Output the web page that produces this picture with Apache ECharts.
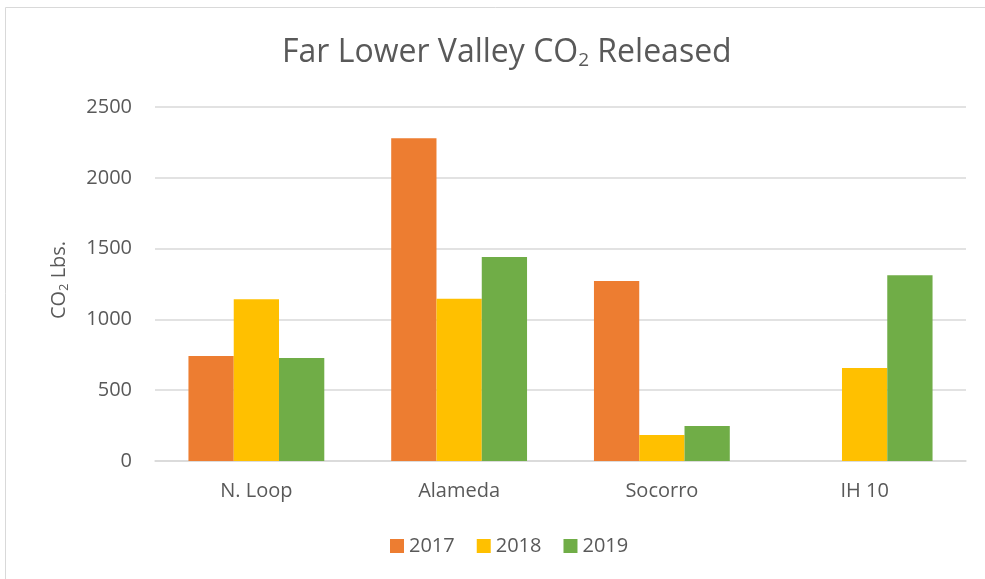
<!DOCTYPE html>
<html>
<head>
<meta charset="utf-8">
<script src="https://cdn.jsdelivr.net/npm/echarts@6/dist/echarts.min.js"></script>
<style>
  html, body { margin: 0; padding: 0; background: #fff; }
  #chart { width: 985px; height: 579px; }
</style>
</head>
<body>
<div id="chart"></div>
<script>
const categories = ['N. Loop', 'Alameda', 'Socorro', 'IH 10'];
const years = ['2017', '2018', '2019'];
const values2017 = [741, 2279, 1272, 0];
const values2018 = [1143, 1146, 184, 657];
const values2019 = [727, 1441, 247, 1312];
const yTicks = [0, 500, 1000, 1500, 2000, 2500];

const font = 'Open Sans';
const textColor = '#595959';

const chart = echarts.init(document.getElementById('chart'));

const bar = function (name, data) {
  return {
    name: name,
    type: 'bar',
    data: data,
    barGap: '0%',
    barCategoryGap: '33%'
  };
};

chart.setOption({
  animation: false,
  color: ['#ED7D31', '#FFC000', '#70AD47'],
  textStyle: { fontFamily: font },
  graphic: [{
    type: 'rect',
    shape: { x: 5.5, y: 7.5, width: 990, height: 590 },
    style: { fill: 'none', stroke: '#d9d9d9', lineWidth: 1 },
    silent: true
  }],
  title: {
    text: 'Far Lower Valley CO{sub|2} Released',
    left: 277,
    top: 30,
    textStyle: {
      fontFamily: font,
      fontSize: 32,
      fontWeight: 'normal',
      color: textColor,
      rich: {
        sub: { fontFamily: font, fontSize: 19, color: textColor, padding: [16, 0, 0, 0] }
      }
    }
  },
  legend: {
    data: years,
    bottom: 18,
    left: 385,
    itemWidth: 14,
    itemHeight: 14,
    itemGap: 22,
    icon: 'rect',
    textStyle: { fontFamily: font, fontSize: 20, color: textColor }
  },
  grid: { left: 155, right: 19, top: 107, bottom: 118 },
  xAxis: {
    type: 'category',
    data: categories,
    axisLine: { lineStyle: { color: '#d9d9d9', width: 1.5 } },
    axisTick: { show: false },
    axisLabel: { fontFamily: font, fontSize: 20, color: textColor, margin: 20 }
  },
  yAxis: {
    type: 'value',
    min: yTicks[0],
    max: yTicks[yTicks.length - 1],
    interval: 500,
    name: 'CO{sub|2} Lbs.',
    nameLocation: 'middle',
    nameGap: 84,
    nameRotate: 90,
    nameTextStyle: {
      fontFamily: font,
      fontSize: 20,
      color: textColor,
      padding: [0, 0, 0, 8],
      rich: {
        sub: { fontFamily: font, fontSize: 13, color: textColor, padding: [11, 0, 0, 0] }
      }
    },
    axisLine: { show: false },
    axisTick: { show: false },
    splitLine: { lineStyle: { color: '#d9d9d9', width: 1.5 } },
    axisLabel: {
      fontFamily: font,
      fontSize: 20,
      color: textColor,
      margin: 23,
      formatter: (v) => String(v)
    }
  },
  series: [
    bar(years[0], values2017),
    bar(years[1], values2018),
    bar(years[2], values2019)
  ]
});

window.addEventListener('resize', () => chart.resize());
</script>
</body>
</html>
